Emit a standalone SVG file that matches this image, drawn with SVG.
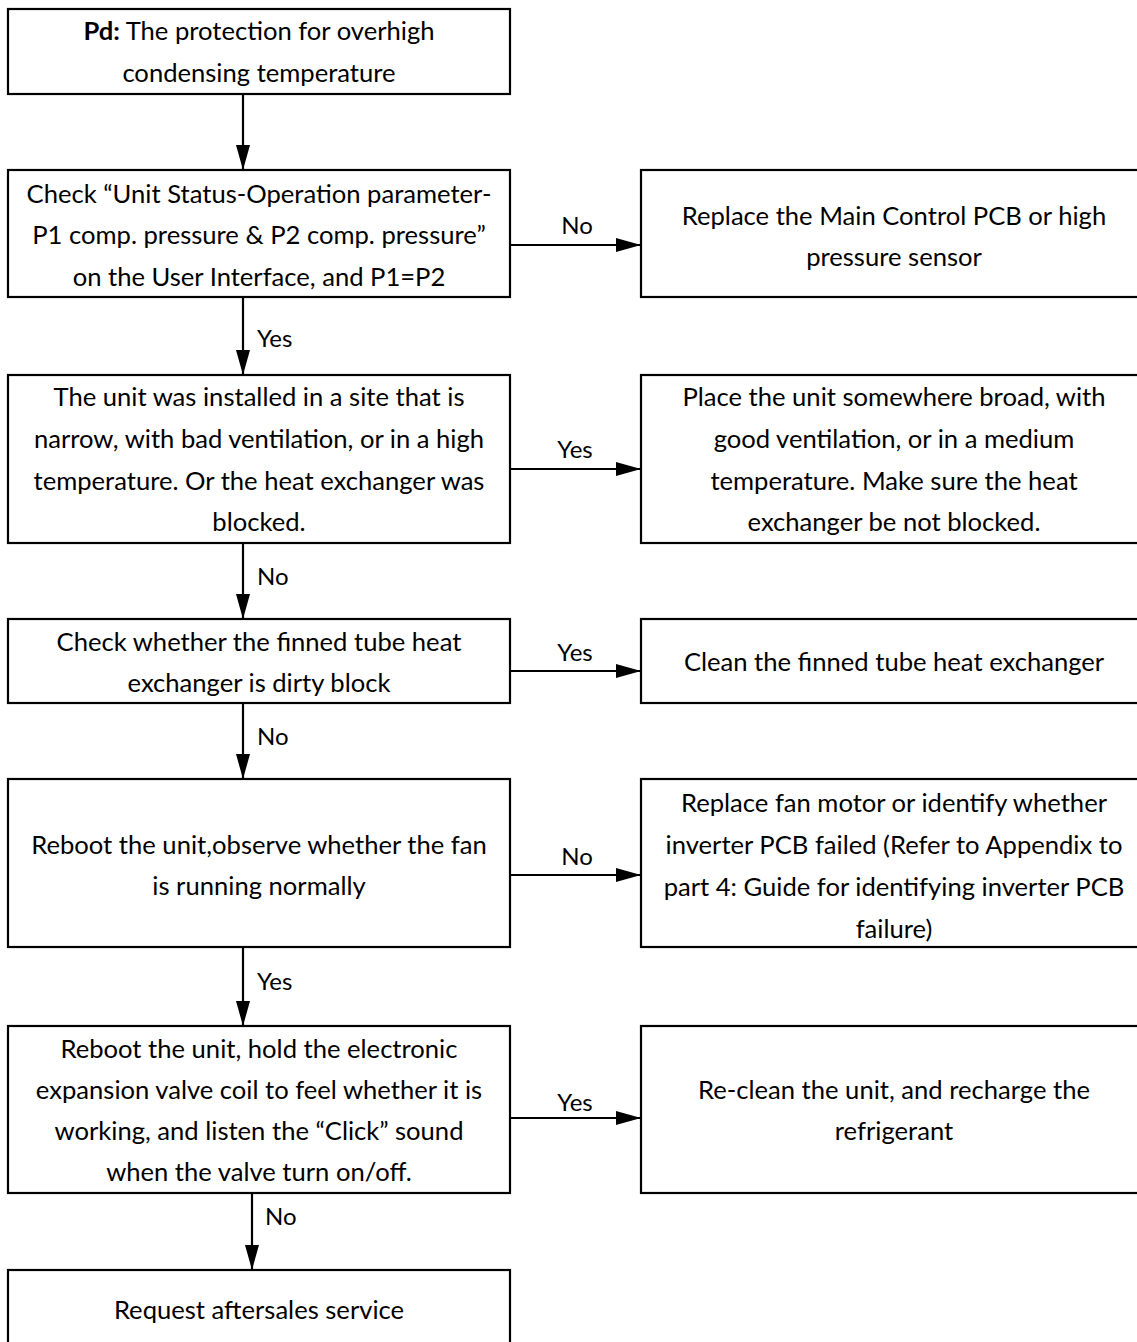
<svg xmlns="http://www.w3.org/2000/svg" width="1137" height="1342" viewBox="0 0 1137 1342">
<style>
.box{fill:#fff;stroke:#000;stroke-width:2.2}
.t{font-family:Lato,"Liberation Sans",sans-serif;font-size:25.6px;fill:#000;text-anchor:middle}
.lb{font-family:Lato,"Liberation Sans",sans-serif;font-size:24px;fill:#000}
.c{stroke:#000;stroke-width:2.2;fill:none;marker-end:url(#ah)}
</style>
<defs>
<marker id="ah" markerUnits="userSpaceOnUse" markerWidth="26" markerHeight="15" refX="25" refY="7" orient="auto" viewBox="0 0 26 15">
<path d="M0,0 L25,7 L0,14 z" fill="#000"/>
</marker>
</defs>
<rect width="1137" height="1342" fill="#fff"/>
<g id="connectors">
<line class="c" x1="243" y1="94" x2="243" y2="170"/>
<line class="c" x1="510" y1="245" x2="641" y2="245"/>
<text class="lb" x="577" y="234" text-anchor="middle">No</text>
<line class="c" x1="243" y1="297" x2="243" y2="375"/>
<text class="lb" x="257" y="347">Yes</text>
<line class="c" x1="510" y1="469" x2="641" y2="469"/>
<text class="lb" x="575" y="458" text-anchor="middle">Yes</text>
<line class="c" x1="243" y1="543" x2="243" y2="619"/>
<text class="lb" x="257" y="585">No</text>
<line class="c" x1="510" y1="671" x2="641" y2="671"/>
<text class="lb" x="575" y="661" text-anchor="middle">Yes</text>
<line class="c" x1="243" y1="703" x2="243" y2="779"/>
<text class="lb" x="257" y="745">No</text>
<line class="c" x1="510" y1="875" x2="641" y2="875"/>
<text class="lb" x="577" y="865" text-anchor="middle">No</text>
<line class="c" x1="243" y1="947" x2="243" y2="1026"/>
<text class="lb" x="257" y="990">Yes</text>
<line class="c" x1="510" y1="1118" x2="641" y2="1118"/>
<text class="lb" x="575" y="1111" text-anchor="middle">Yes</text>
<line class="c" x1="252" y1="1193" x2="252" y2="1270"/>
<text class="lb" x="265" y="1225">No</text>
</g>
<g id="n1">
<rect class="box" x="8" y="9" width="502" height="85"/>
<text class="t" x="259" y="40"><tspan font-weight="bold">Pd:</tspan> The protection for overhigh</text>
<text class="t" x="259" y="82">condensing temperature</text>
</g>
<g id="n2">
<rect class="box" x="8" y="170" width="502" height="127"/>
<text class="t" x="259" y="203">Check “Unit Status-Operation parameter-</text>
<text class="t" x="259" y="244">P1 comp. pressure &amp; P2 comp. pressure”</text>
<text class="t" x="259" y="286">on the User Interface, and P1=P2</text>
</g>
<g id="nA">
<rect class="box" x="641" y="170" width="506" height="127"/>
<text class="t" x="894" y="225">Replace the Main Control PCB or high</text>
<text class="t" x="894" y="266">pressure sensor</text>
</g>
<g id="n3">
<rect class="box" x="8" y="375" width="502" height="168"/>
<text class="t" x="259" y="406">The unit was installed in a site that is</text>
<text class="t" x="259" y="448">narrow, with bad ventilation, or in a high</text>
<text class="t" x="259" y="490">temperature. Or the heat exchanger was</text>
<text class="t" x="259" y="531">blocked.</text>
</g>
<g id="nB">
<rect class="box" x="641" y="375" width="506" height="168"/>
<text class="t" x="894" y="406">Place the unit somewhere broad, with</text>
<text class="t" x="894" y="448">good ventilation, or in a medium</text>
<text class="t" x="894" y="490">temperature. Make sure the heat</text>
<text class="t" x="894" y="531">exchanger be not blocked.</text>
</g>
<g id="n4">
<rect class="box" x="8" y="619" width="502" height="84"/>
<text class="t" x="259" y="651">Check whether the finned tube heat</text>
<text class="t" x="259" y="692">exchanger is dirty block</text>
</g>
<g id="nC">
<rect class="box" x="641" y="619" width="506" height="84"/>
<text class="t" x="894" y="671">Clean the finned tube heat exchanger</text>
</g>
<g id="n5">
<rect class="box" x="8" y="779" width="502" height="168"/>
<text class="t" x="259" y="854">Reboot the unit,observe whether the fan</text>
<text class="t" x="259" y="895">is running normally</text>
</g>
<g id="nD">
<rect class="box" x="641" y="779" width="506" height="168"/>
<text class="t" x="894" y="812">Replace fan motor or identify whether</text>
<text class="t" x="894" y="854">inverter PCB failed (Refer to Appendix to</text>
<text class="t" x="894" y="896">part 4: Guide for identifying inverter PCB</text>
<text class="t" x="894" y="938">failure)</text>
</g>
<g id="n6">
<rect class="box" x="8" y="1026" width="502" height="167"/>
<text class="t" x="259" y="1058">Reboot the unit, hold the electronic</text>
<text class="t" x="259" y="1099">expansion valve coil to feel whether it is</text>
<text class="t" x="259" y="1140">working, and listen the “Click” sound</text>
<text class="t" x="259" y="1181">when the valve turn on/off.</text>
</g>
<g id="nE">
<rect class="box" x="641" y="1026" width="506" height="167"/>
<text class="t" x="894" y="1099">Re-clean the unit, and recharge the</text>
<text class="t" x="894" y="1140">refrigerant</text>
</g>
<g id="n7">
<rect class="box" x="8" y="1270" width="502" height="90"/>
<text class="t" x="259" y="1319">Request aftersales service</text>
</g>
</svg>
